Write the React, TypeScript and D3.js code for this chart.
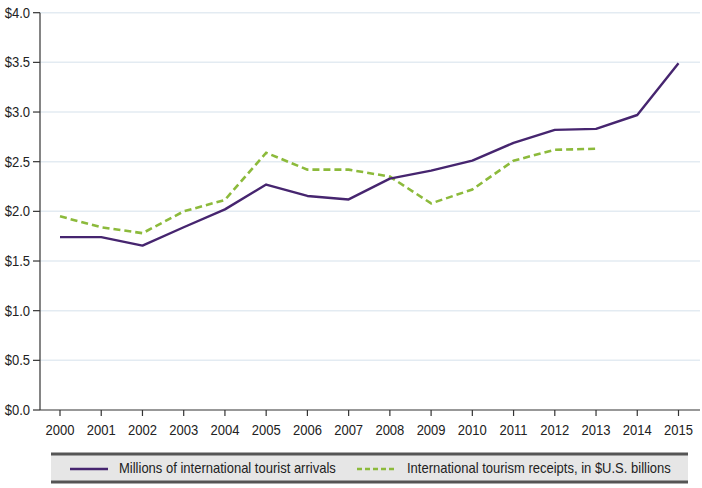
import React from "react";
import * as d3 from "d3";

const years = [2000, 2001, 2002, 2003, 2004, 2005, 2006, 2007, 2008, 2009, 2010, 2011, 2012, 2013, 2014, 2015];
const arrivals = [1.74, 1.74, 1.655, 1.84, 2.02, 2.27, 2.155, 2.12, 2.33, 2.41, 2.51, 2.69, 2.82, 2.83, 2.97, 3.49];
const receiptYears = [2000, 2001, 2002, 2003, 2004, 2005, 2006, 2007, 2008, 2009, 2010, 2011, 2012, 2013];
const receipts = [1.95, 1.84, 1.78, 2.0, 2.115, 2.59, 2.42, 2.42, 2.35, 2.08, 2.22, 2.51, 2.62, 2.63];
const yTicks = [0, 0.5, 1.0, 1.5, 2.0, 2.5, 3.0, 3.5, 4.0];
const seriesNames = ["Millions of international tourist arrivals", "International tourism receipts, in $U.S. billions"];

const W = 702;
const H = 488;
const FONT = "'Liberation Sans', Arial, sans-serif";
const PURPLE = "#46256f";
const GREEN = "#8cba3b";
const SX = 0.93;

function T(props: { x: number; y: number; anchor?: string; children: React.ReactNode }) {
  return (
    <text
      transform={`translate(${props.x},${props.y}) scale(${SX},1)`}
      dy="0.35em"
      textAnchor={props.anchor || "start"}
      fontSize={14}
      fill="#222"
    >
      {props.children}
    </text>
  );
}

export default function App() {
  const x = d3.scaleLinear().domain([2000, 2015]).range([60, 678.5]);
  const y = d3.scaleLinear().domain([0, 4]).range([410, 12.7]);
  const plotLeft = 40;
  const plotRight = 700;

  const line = d3
    .line<[number, number]>()
    .x((d) => x(d[0]))
    .y((d) => y(d[1]));

  const arrPts = years.map((yr, i) => [yr, arrivals[i]] as [number, number]);
  const recPts = receiptYears.map((yr, i) => [yr, receipts[i]] as [number, number]);

  return (
    <svg
      width={W}
      height={H}
      style={{ position: "absolute", left: 0, top: 0, background: "#fff" }}
      fontFamily={FONT}
    >
      {/* gridlines */}
      {yTicks.slice(1).map((t) => (
        <line key={"g" + t} x1={plotLeft} x2={plotRight} y1={y(t)} y2={y(t)} stroke="#e3ebf2" strokeWidth={1.5} />
      ))}
      {/* y axis */}
      <line x1={plotLeft} x2={plotLeft} y1={y(4)} y2={y(0)} stroke="#333" strokeWidth={1.2} />
      {yTicks.map((t) => (
        <g key={"y" + t}>
          <line x1={plotLeft - 7} x2={plotLeft} y1={y(t)} y2={y(t)} stroke="#333" strokeWidth={1.2} />
          <T x={plotLeft - 10} y={y(t)} anchor="end">
            {"$" + d3.format(".1f")(t)}
          </T>
        </g>
      ))}
      {/* x axis */}
      <line x1={plotLeft} x2={plotRight} y1={y(0)} y2={y(0)} stroke="#333" strokeWidth={1.2} />
      {years.map((yr) => (
        <g key={"x" + yr}>
          <line x1={x(yr)} x2={x(yr)} y1={y(0)} y2={y(0) + 6} stroke="#333" strokeWidth={1.2} />
          <T x={x(yr)} y={430} anchor="middle">
            {yr}
          </T>
        </g>
      ))}
      {/* series */}
      <path d={line(recPts) || ""} fill="none" stroke={GREEN} strokeWidth={2.6} strokeDasharray="7,4" />
      <path d={line(arrPts) || ""} fill="none" stroke={PURPLE} strokeWidth={2.4} strokeLinejoin="round" />
      {/* legend */}
      <rect x={51} y={454} width={637} height={28} fill="#e6e6e6" />
      <line x1={51} x2={688} y1={454} y2={454} stroke="#555" strokeWidth={3} />
      <line x1={51} x2={688} y1={482} y2={482} stroke="#555" strokeWidth={3} />
      <line x1={70} x2={108} y1={469} y2={469} stroke={PURPLE} strokeWidth={2.4} />
      <T x={119} y={468.5}>{seriesNames[0]}</T>
      <line x1={357} x2={397} y1={469} y2={469} stroke={GREEN} strokeWidth={2.4} strokeDasharray="5,3" />
      <T x={407} y={468.5}>{seriesNames[1]}</T>
    </svg>
  );
}
